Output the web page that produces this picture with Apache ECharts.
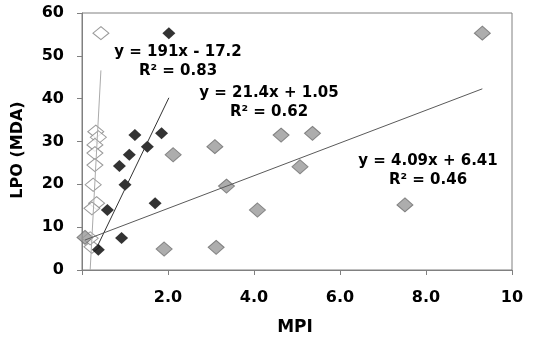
<!DOCTYPE html>
<html>
<head>
<meta charset="utf-8">
<script src="https://cdn.jsdelivr.net/npm/echarts@6/dist/echarts.min.js"></script>
<style>html,body{margin:0;padding:0;background:#fff;}#c{width:550px;height:342px;}</style>
</head>
<body>
<div id="c"></div>
<script>
// ---- data ----
const openMPI  = [0.44, 0.32, 0.38, 0.30, 0.30, 0.30, 0.26, 0.34, 0.23, 0.23, 0.19];
const openLPO  = [55.3, 32.3, 31.0, 29.2, 27.3, 24.5, 19.9, 15.6, 14.4, 5.4, 7.4];
const blackMPI = [2.02, 1.23, 1.85, 1.52, 1.10, 0.87, 1.00, 1.70, 0.59, 0.92, 0.38];
const blackLPO = [55.3, 31.5, 31.9, 28.8, 26.9, 24.3, 19.9, 15.6, 14.0, 7.5, 4.7];
const grayMPI  = [0.07, 1.91, 2.12, 3.09, 3.12, 3.36, 4.08, 4.63, 5.07, 5.36, 7.51, 9.31];
const grayLPO  = [7.6, 4.9, 26.9, 28.8, 5.3, 19.6, 14.0, 31.5, 24.1, 31.9, 15.2, 55.3];
// trend line end points (x, y)
const openTrendX  = [0.19, 0.44];
const openTrendY  = [0, 46.6];
const blackTrendX = [0.37, 2.02];
const blackTrendY = [5.8, 40.2];
const grayTrendX  = [0.07, 9.31];
const grayTrendY  = [7.0, 42.3];
// tick labels
const xTickLabels = ['', '2.0', '4.0', '6.0', '8.0', '10'];
const yTickLabels = ['0', '10', '20', '30', '40', '50', '60'];
const equations = [
  'y = 191x - 17.2\nR² = 0.83',
  'y = 21.4x + 1.05\nR² = 0.62',
  'y = 4.09x + 6.41\nR² = 0.46'
];

const zip = (a, b) => a.map((v, i) => [v, b[i]]);
const FONT = 'DejaVu Sans';
const AX = '#808080';

const chart = echarts.init(document.getElementById('c'), null, {renderer: 'canvas'});
chart.setOption({
  animation: false,
  backgroundColor: '#fff',
  grid: {left: 82, right: 38, top: 13, bottom: 72, show: true, borderColor: AX, borderWidth: 1, backgroundColor: 'transparent'},
  xAxis: {
    type: 'value', min: 0, max: 10, interval: 2,
    axisLine: {show: true, lineStyle: {color: AX, width: 1}},
    axisTick: {show: true, length: 5, lineStyle: {color: AX}},
    splitLine: {show: false},
    axisLabel: {margin: 20, color: '#000', fontFamily: FONT, fontWeight: 'bold', fontSize: 16,
      formatter: v => xTickLabels[Math.round(v / 2)]}
  },
  yAxis: {
    type: 'value', min: 0, max: 60, interval: 10,
    axisLine: {show: true, lineStyle: {color: AX, width: 1}},
    axisTick: {show: true, length: 5, lineStyle: {color: AX}},
    splitLine: {show: false},
    axisLabel: {margin: 18, color: '#000', fontFamily: FONT, fontWeight: 'bold', fontSize: 16,
      formatter: v => yTickLabels[Math.round(v / 10)]}
  },
  series: [
    {type: 'scatter', data: zip(openMPI, openLPO), symbol: 'diamond', symbolSize: [16, 13], z: 2,
      itemStyle: {color: '#fff', borderColor: '#808080', borderWidth: 1}},
    {type: 'scatter', data: zip(blackMPI, blackLPO), symbol: 'diamond', symbolSize: [13, 12], z: 3,
      itemStyle: {color: '#000', borderColor: '#000', borderWidth: 0}},
    {type: 'scatter', data: zip(grayMPI, grayLPO), symbol: 'diamond', symbolSize: [16, 14], z: 4,
      itemStyle: {color: '#999999', borderColor: '#6e6e6e', borderWidth: 1}},
    {type: 'line', data: zip(openTrendX, openTrendY), symbol: 'none', z: 5,
      lineStyle: {color: '#aaaaaa', width: 1}},
    {type: 'line', data: zip(blackTrendX, blackTrendY), symbol: 'none', z: 5,
      lineStyle: {color: '#333', width: 1}},
    {type: 'line', data: zip(grayTrendX, grayTrendY), symbol: 'none', z: 5,
      lineStyle: {color: '#5a5a5a', width: 1}}
  ],
  graphic: [
    {type: 'text', x: 178, y: 62, z: 10, style: {text: equations[0], fill: '#000', font: 'bold 15px "DejaVu Sans"', textAlign: 'center', textVerticalAlign: 'middle', lineHeight: 19}},
    {type: 'text', x: 269, y: 103, z: 10, style: {text: equations[1], fill: '#000', font: 'bold 15px "DejaVu Sans"', textAlign: 'center', textVerticalAlign: 'middle', lineHeight: 19}},
    {type: 'text', x: 428, y: 171, z: 10, style: {text: equations[2], fill: '#000', font: 'bold 15px "DejaVu Sans"', textAlign: 'center', textVerticalAlign: 'middle', lineHeight: 19}},
    {type: 'text', x: 295, y: 328, z: 10, style: {text: 'MPI', fill: '#000', font: 'bold 17px "DejaVu Sans"', textAlign: 'center', textVerticalAlign: 'middle'}},
    {type: 'text', x: 18, y: 150, rotation: Math.PI / 2, z: 10, style: {text: 'LPO (MDA)', fill: '#000', font: 'bold 16px "DejaVu Sans"', textAlign: 'center', textVerticalAlign: 'middle'}}
  ]
});
</script>
</body>
</html>
